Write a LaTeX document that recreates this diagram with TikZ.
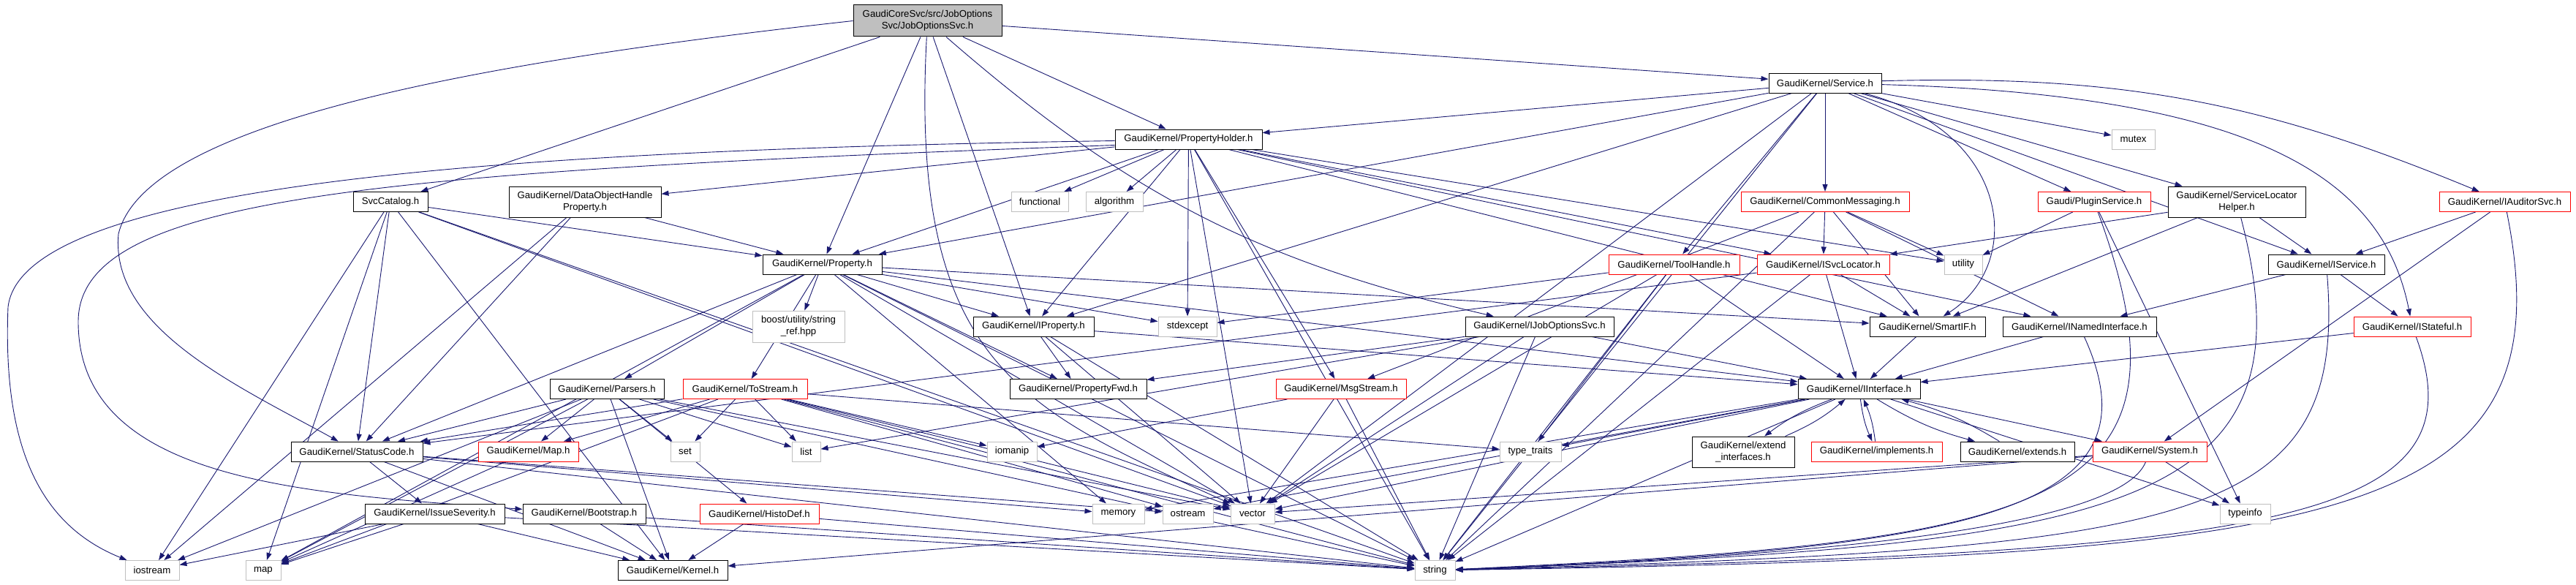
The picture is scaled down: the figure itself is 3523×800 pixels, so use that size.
\documentclass[tikz,border=0pt]{standalone}
\usepackage{fontspec}
\newfontfamily\dotfont{Liberation Sans}
\usetikzlibrary{arrows.meta,backgrounds}
\definecolor{dotblue}{RGB}{25,25,112}
\definecolor{dotgray}{RGB}{191,191,191}

\begin{document}
\begin{tikzpicture}[x=1pt,y=1pt,
  hdr/.style={draw=black, fill=white, line width=1pt, inner sep=0pt, minimum height=27pt, align=center, font=\dotfont\fontsize{13.2}{16}\selectfont},
  lib/.style={hdr, draw=dotgray},
  ext/.style={hdr, draw=red},
  main/.style={hdr, fill=dotgray},
  wd/.style={minimum width=#1pt},
  dep/.style={draw=dotblue, line width=0.9pt, -{Triangle[length=10pt,width=7pt]}},
  every edge/.style={dep}]
  \useasboundingbox (0,0) rectangle (3523,-800);

  % input nodes position and text
  \node[main, wd=203, minimum height=43pt] (jos) at (1268.5,-28.5) {GaudiCoreSvc/src/JobOptions\\Svc/JobOptionsSvc.h};
  \node[hdr, wd=154] (svc) at (2496,-113.5) {GaudiKernel/Service.h};
  \node[hdr, wd=201] (ph) at (1625.5,-190.5) {GaudiKernel/PropertyHolder.h};
  \node[lib, wd=59] (mutex) at (2917.5,-190.5) {mutex};
  \node[hdr, wd=102] (cat) at (534,-276) {SvcCatalog.h};
  \node[hdr, wd=208, minimum height=42pt] (dohp) at (800,-276) {GaudiKernel/DataObjectHandle\\Property.h};
  \node[lib, wd=78] (func) at (1422,-276) {functional};
  \node[lib, wd=78] (algo) at (1524,-276) {algorithm};
  \node[ext, wd=230] (cmsg) at (2496,-276) {GaudiKernel/CommonMessaging.h};
  \node[ext, wd=154] (plug) at (2864,-276) {Gaudi/PluginService.h};
  \node[hdr, wd=188, minimum height=42pt] (slh) at (3059,-276) {GaudiKernel/ServiceLocator\\Helper.h};
  \node[ext, wd=179] (iaud) at (3425.5,-276) {GaudiKernel/IAuditorSvc.h};
  \node[hdr, wd=163] (prop) at (1124.5,-361.5) {GaudiKernel/Property.h};
  \node[ext, wd=179] (tool) at (2289.5,-361.5) {GaudiKernel/ToolHandle.h};
  \node[ext, wd=181] (isl) at (2493.5,-361.5) {GaudiKernel/ISvcLocator.h};
  \node[lib, wd=52] (util) at (2685,-361.5) {utility};
  \node[hdr, wd=159] (isvc) at (3181.5,-361.5) {GaudiKernel/IService.h};
  \node[lib, wd=126, minimum height=43pt] (sref) at (1092,-446.5) {boost/utility/string\\\_ref.hpp};
  \node[hdr, wd=165] (iprop) at (1413.5,-446.5) {GaudiKernel/IProperty.h};
  \node[lib, wd=80] (stdex) at (1624,-446.5) {stdexcept};
  \node[hdr, wd=203] (ijos) at (2105.5,-446.5) {GaudiKernel/IJobOptionsSvc.h};
  \node[hdr, wd=158] (smart) at (2636,-446.5) {GaudiKernel/SmartIF.h};
  \node[hdr, wd=210] (inamed) at (2844,-446.5) {GaudiKernel/INamedInterface.h};
  \node[ext, wd=160] (istate) at (3299,-446.5) {GaudiKernel/IStateful.h};
  \node[hdr, wd=156] (pars) at (830,-532) {GaudiKernel/Parsers.h};
  \node[ext, wd=170] (tostr) at (1019,-532) {GaudiKernel/ToStream.h};
  \node[hdr, wd=187] (pfwd) at (1474.5,-532) {GaudiKernel/PropertyFwd.h};
  \node[ext, wd=178] (msg) at (1834,-532) {GaudiKernel/MsgStream.h};
  \node[hdr, wd=167] (iif) at (2542.5,-532) {GaudiKernel/IInterface.h};
  \node[hdr, wd=180] (sc) at (488,-617.5) {GaudiKernel/StatusCode.h};
  \node[ext, wd=137] (mapk) at (722.5,-617.5) {GaudiKernel/Map.h};
  \node[lib, wd=40] (set) at (937,-617.5) {set};
  \node[lib, wd=39] (list) at (1102.5,-617.5) {list};
  \node[lib, wd=68] (iomanip) at (1384,-617.5) {iomanip};
  \node[lib, wd=84] (ttraits) at (2093,-617.5) {type\_traits};
  \node[hdr, wd=140, minimum height=42pt] (extif) at (2384,-618) {GaudiKernel/extend\\\_interfaces.h};
  \node[ext, wd=179] (impl) at (2566.5,-617.5) {GaudiKernel/implements.h};
  \node[hdr, wd=156] (extends) at (2759,-617.5) {GaudiKernel/extends.h};
  \node[ext, wd=156] (system) at (2940,-617.5) {GaudiKernel/System.h};
  \node[hdr, wd=191] (issue) at (594.5,-702.5) {GaudiKernel/IssueSeverity.h};
  \node[hdr, wd=168] (boot) at (799,-702.5) {GaudiKernel/Bootstrap.h};
  \node[ext, wd=163] (histo) at (1038.5,-702.5) {GaudiKernel/HistoDef.h};
  \node[lib, wd=71] (memory) at (1529.5,-702.5) {memory};
  \node[lib, wd=69] (ostream) at (1624.5,-702.5) {ostream};
  \node[lib, wd=60] (vector) at (1713,-702.5) {vector};
  \node[lib, wd=69] (typeinfo) at (3070.5,-702.5) {typeinfo};
  \node[lib, wd=74] (iostream) at (208,-780) {iostream};
  \node[lib, wd=48] (map) at (360,-780) {map};
  \node[hdr, wd=150] (kernel) at (920,-780) {GaudiKernel/Kernel.h};
  \node[lib, wd=55] (string) at (1962.5,-780) {string};

  \begin{pgfonlayer}{background}
  % include edges
  \path (jos) edge (svc) edge (ph) edge (cat) edge (prop) edge (iprop) edge[bend right=14] (ijos);
  \path (svc) edge (ph) edge (prop) edge (iprop) edge (tool) edge (cmsg) edge (plug) edge (slh) edge (mutex)
              edge[bend left=12] (iaud) edge (isvc) edge (vector) edge (string);
  \path (ph) edge (dohp) edge (prop) edge (iprop) edge (stdex) edge (func) edge (algo) edge (msg) edge (isl)
             edge (smart) edge (inamed) edge (util) edge (vector) edge (string);
  \path (cat) edge (prop) edge (sc) edge (iostream) edge (map) edge (kernel) edge (vector) edge (string);
  \path (dohp) edge (prop) edge (sc) edge (iostream);
  \path (prop) edge (iprop) edge (pfwd) edge (stdex) edge (sref) edge (pars) edge (tostr) edge (sc) edge (map)
               edge (iif) edge (smart) edge (memory) edge (vector) edge (string);
  \path (pars) edge (mapk) edge (set) edge (list) edge (histo) edge (sc) edge (kernel) edge (iostream)
               edge (map) edge (vector) edge (string);
  \path (tostr) edge (mapk) edge (set) edge (list) edge (iomanip) edge (ttraits) edge (sc) edge (map)
                edge (ostream) edge (vector) edge (string);
  \path (mapk) edge (map);
  \path (sc) edge (issue) edge (kernel) edge (memory) edge (ostream) edge (string);
  \path (issue) edge (kernel) edge (iostream) edge (map) edge (string);
  \path (boot) edge (kernel) edge (string);
  \path (histo) edge (kernel) edge (string);
  \path (iprop) edge (pfwd) edge (iif) edge (vector) edge (string);
  \path (msg) edge (iomanip) edge (vector) edge (string);
  \path (ijos) edge (pfwd) edge (iif) edge (list) edge (vector) edge (string);
  \path (tool) edge (stdex) edge (ttraits) edge (iif) edge (vector) edge (string);
  \path (cmsg) edge (msg) edge (isl) edge (smart) edge (util) edge (inamed) edge (string);
  \path (plug) edge (util) edge (typeinfo);
  \path (slh) edge (isvc) edge (smart) edge (isl);
  \path (iaud) edge (isvc) edge (system);
  \path (isl) edge (iif) edge (smart) edge (sc) edge (string);
  \path (isvc) edge (inamed) edge (istate);
  \path (smart) edge (iif);
  \path (inamed) edge (iif);
  \path (istate) edge (iif);
  \path (iif) edge[bend right=8] (extif) edge[bend right=8] (impl) edge[bend right=8] (extends) edge (system)
              edge (ttraits) edge (typeinfo) edge (memory) edge (ostream) edge (vector) edge (string);
  \path (extif) edge[bend right=8] (iif);
  \path (impl) edge[bend right=8] (iif);
  \path (extends) edge[bend right=8] (iif);
  \path (system) edge (kernel) edge (vector) edge (typeinfo);

  % routed round other boxes
  \draw[dep] (jos) .. controls (1243,-500) and (1400,-560) .. (vector);
  \draw[dep] (svc) .. controls (3100,-130) and (3260,-250) .. (istate);
  \draw[dep] (svc) .. controls (2750,-180) and (2770,-360) .. (smart);

  % long ones round the left side
  \draw[dep] (jos.west) .. controls (700,-80) and (200,-160) .. (162,-320) .. controls (150,-450) and (330,-530) .. (sc);
  \draw[dep] ([yshift=-2pt]ph.west) .. controls (700,-205) and (30,-250) .. (11,-420) .. controls (3,-620) and (60,-720) .. (iostream);
  \draw[dep] ([yshift=-8pt]ph.west) .. controls (500,-235) and (107,-270) .. (107,-440) .. controls (107,-660) and (420,-675) .. (boot);

  % long ones round the right side
  \draw[dep] (iaud) .. controls (3515,-720) and (3200,-760) .. (string);
  \draw[dep] (istate) .. controls (3400,-720) and (3100,-755) .. (string);
  \draw[dep] (isvc) .. controls (3210,-720) and (3000,-750) .. (string);
  \draw[dep] (slh) .. controls (3170,-700) and (2900,-745) .. (string);
  \draw[dep] (plug) .. controls (3020,-700) and (2800,-740) .. (string);
  \draw[dep] (inamed) .. controls (2960,-700) and (2700,-750) .. (string);
  \draw[dep] (system) .. controls (2900,-720) and (2500,-760) .. (string);
  \end{pgfonlayer}
\end{tikzpicture}
\end{document}
